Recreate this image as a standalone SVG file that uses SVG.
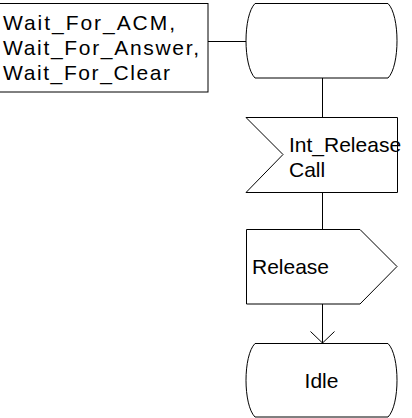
<svg xmlns="http://www.w3.org/2000/svg" width="412" height="418" viewBox="0 0 412 418">
<style>
.s{fill:#fff;stroke:#000;stroke-width:1}
.l{fill:none;stroke:#000;stroke-width:1}
text{font-family:"Liberation Sans",Arial,sans-serif;font-size:21px;fill:#000}
</style>
<rect width="412" height="418" fill="#fff"/>
<g id="connectors">
<line class="l" x1="208" y1="41.5" x2="246" y2="41.5"/>
<line class="l" x1="322.5" y1="78" x2="322.5" y2="117"/>
<line class="l" x1="322.5" y1="192" x2="322.5" y2="229"/>
<line class="l" x1="322.5" y1="304" x2="322.5" y2="343"/>
<polyline class="l" points="310.5,331.5 322.5,343 334.5,331.5"/>
</g>
<g id="comment">
<rect class="s" x="-1" y="3.5" width="209" height="88.5"/>
<text x="3" y="30" textLength="172" lengthAdjust="spacing">Wait_For_ACM,</text>
<text x="3" y="55" textLength="196" lengthAdjust="spacing">Wait_For_Answer,</text>
<text x="3" y="80" textLength="167" lengthAdjust="spacing">Wait_For_Clear</text>
</g>
<g id="state-top">
<path class="s" d="M255,3.5 H388 C400,15.5 400,66 388,78 H255 C243,66 243,15.5 255,3.5 Z"/>
</g>
<g id="input-int-release-call">
<path class="s" d="M246,117.5 H397.5 V192.5 H246 L283,154.5 Z"/>
<text x="289" y="152">Int_Release</text>
<text x="289" y="177">Call</text>
</g>
<g id="output-release">
<path class="s" d="M246.5,229.5 H360 L397,266.5 L360,304 H246.5 Z"/>
<text x="252" y="274">Release</text>
</g>
<g id="state-idle">
<path class="s" d="M255,343.5 H388 C400,355.5 400,405 388,417 H255 C243,405 243,355.5 255,343.5 Z"/>
<text x="321.5" y="388" text-anchor="middle">Idle</text>
</g>
</svg>
